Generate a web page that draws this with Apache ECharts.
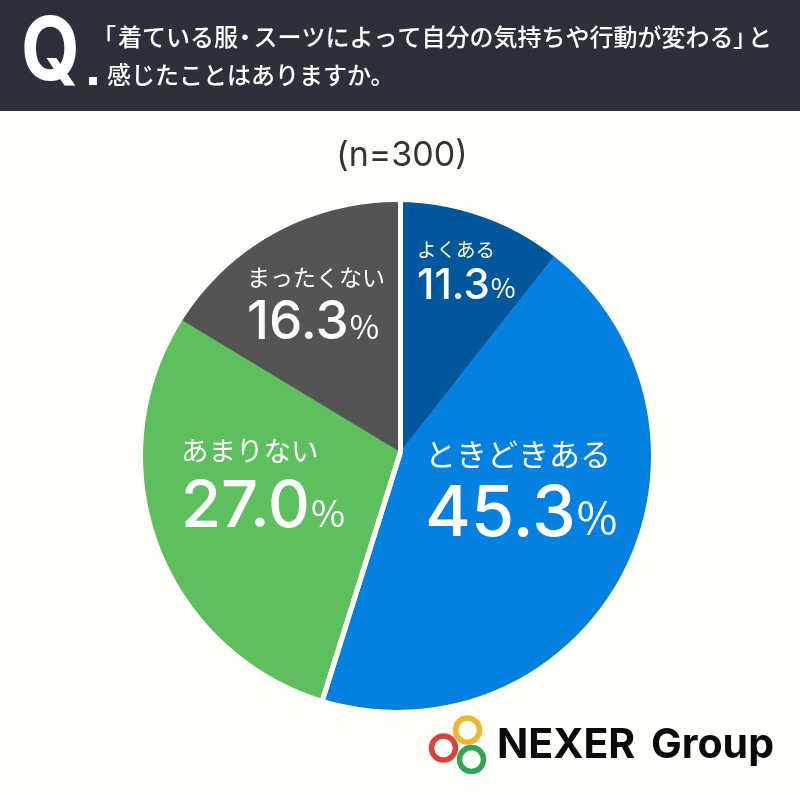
<!DOCTYPE html>
<html><head><meta charset="utf-8">
<style>html,body{margin:0;padding:0;background:#fffefb}#c{width:800px;height:795px}</style>
<script src="https://cdn.jsdelivr.net/npm/echarts@6/dist/echarts.min.js"></script></head>
<body><div id="c"></div>
<script>
const categories = ['よくある','ときどきある','あまりない','まったくない'];
// Percentages printed on the reference
const values = [11.3,45.3,27.0,16.3];
// Slice sizes as actually drawn in the reference (they differ from its printed percentages)
const drawnShares = [10.6,44.25,28.8,16.35];
const colors = ['#01579b','#0380e0','#5dbf5e','#545454'];
const sampleNote = '(n=300)';
const BG = '#fffefb';
const labelPos = [[417,233],[425,429.5],[181,427],[247,258]];
const labelSizes = [[19.5,42,27],[31,70,44],[27.5,65,37],[23,53,32]];
const nameGap = [13,19,20,16];
const JP = '"Noto Sans CJK JP"', NUM = 'Inter, "Noto Sans CJK JP"';
const chart = echarts.init(document.getElementById('c'),null,{renderer:'canvas'});
function rich(i){const s=labelSizes[i];return {
  n:{fontFamily:JP,fontSize:s[0],color:'#fff',lineHeight:s[0]+nameGap[i],fontWeight:400},
  v:{fontFamily:'Inter',fontSize:s[1],color:'#fff',lineHeight:s[1],fontWeight:500},
  p:{fontFamily:JP,fontSize:s[2],color:'#fff',lineHeight:s[1],fontWeight:400,verticalAlign:'bottom',padding:[0,0,s[2]*0.23,1]}};}
const ring=(cx,cy,r,c)=>({type:'circle',z:50,shape:{cx,cy,r},style:{fill:'none',stroke:c,lineWidth:5.5}});
const q=(t,x,y)=>({type:'text',z:51,x,y,style:{text:t,font:'500 24px '+JP,fill:'#fff'}});
chart.setOption({
  backgroundColor:BG,animation:false,
  graphic:[
    {type:'rect',z:50,shape:{x:0,y:0,width:800,height:111},style:{fill:'#2d303b'}},
    {type:'text',z:51,x:21,y:10,scaleX:.86,style:{text:'Q',font:'700 88px '+NUM,fill:'#fff'}},
    {type:'rect',z:51,shape:{x:89,y:77,width:8,height:8},style:{fill:'#fff'}},
    q('「',92,25),q('着ている服',118,25),q('・',233,25),q('スーツによって自分の気持ちや行動が変わる',253.5,25),
    q('」',733,25),q('と',748,25),q('感じたことはありますか。',107,63),
    {type:'text',z:50,x:402,y:156,style:{text:sampleNote,font:'400 34px '+NUM,fill:'#333',align:'center',verticalAlign:'middle'}},
    ring(467.5,730,12,'#edb82f'),ring(443.5,748,12,'#d8443c'),ring(471.5,759.5,12,'#33a457'),
    {type:'text',z:50,x:497,y:725,style:{text:'NEXER',font:'700 41px '+NUM,fill:'#0a0a0a'}},
    {type:'text',z:50,x:651,y:725,style:{text:'Group',font:'700 41px '+NUM,fill:'#0a0a0a'}}
  ],
  series:[
   {type:'pie',z:2,center:[400.5,452],radius:[0,262],startAngle:90,clockwise:true,silent:true,
    data:categories.map((c,i)=>({name:c,value:drawnShares[i],itemStyle:{color:colors[i],borderColor:colors[i],borderWidth:.5},
      label:{show:true,position:'inside',align:'left',verticalAlign:'top',rich:rich(i),
        formatter:`{n|${c}}\n{v|${values[i].toFixed(1)}}{p|%}`}})),
    labelLine:{show:false},
    labelLayout:p=>({x:labelPos[p.dataIndex][0],y:labelPos[p.dataIndex][1],align:'left',verticalAlign:'top'})
   },
   {type:'pie',z:3,center:[400.5,452],radius:[0,262],startAngle:90,clockwise:true,silent:true,
    label:{show:false},labelLine:{show:false},
    itemStyle:{color:'rgba(0,0,0,0)',borderColor:BG,borderWidth:5},
    data:[{value:drawnShares[0]+drawnShares[1]},{value:drawnShares[2]+drawnShares[3]}]
   },
   {type:'pie',z:4,center:[397,456],radius:[254,270],silent:true,
    label:{show:false},labelLine:{show:false},itemStyle:{color:BG},data:[{value:1}]}
  ]
});
</script></body></html>
